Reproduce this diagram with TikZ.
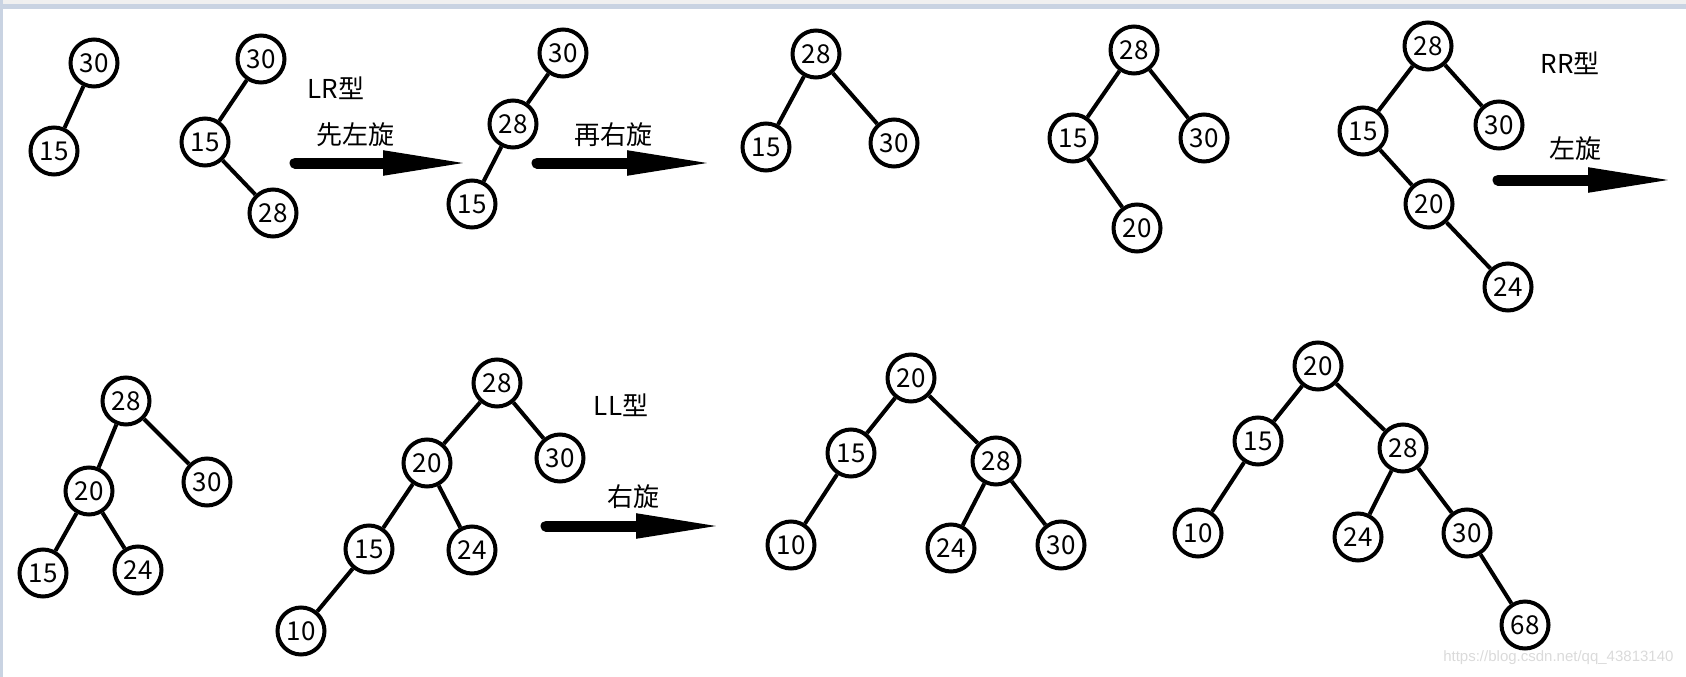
\documentclass[tikz,border=0pt]{standalone}
\usepackage{fontspec}
\newfontfamily\cjk{Noto Sans CJK SC}
\newfontfamily\wmfont{Liberation Sans}
\usetikzlibrary{arrows.meta}
\definecolor{framebar}{HTML}{C9D3E2}
\definecolor{topbar}{HTML}{F0F0F0}
\definecolor{wmgray}{HTML}{DADADA}

\begin{document}
\begin{tikzpicture}[
    x=1pt, y=-1pt,
    bnode/.style={draw, circle, line width=4pt, minimum size=47pt, inner sep=0pt, font=\cjk\fontsize{26}{26}\selectfont},
    link/.style={line width=4pt},
    note/.style={font=\cjk\fontsize{26}{26}\selectfont},
    rotarrow/.style={line width=11pt, line cap=round, -{Triangle[length=91pt, width=22pt]}}
]
\useasboundingbox (0,0) rectangle (1686,677);
\fill[topbar] (0,0) rectangle (1686,4);
\fill[framebar] (0,4) rectangle (1686,9);
\fill[framebar] (0,0) rectangle (3,677);

% first row
\node[bnode] (a30) at (94,63) {30};
\node[bnode] (a15) at (54,151) {15};

\node[bnode] (b30) at (261,59) {30};
\node[bnode] (b15) at (205,142) {15};
\node[bnode] (b28) at (273,213) {28};

\node[bnode] (c30) at (563,53) {30};
\node[bnode] (c28) at (513,124) {28};
\node[bnode] (c15) at (472,204) {15};

\node[bnode] (d28) at (816,54) {28};
\node[bnode] (d15) at (766,147) {15};
\node[bnode] (d30) at (894,143) {30};

\node[bnode] (e28) at (1134,50) {28};
\node[bnode] (e15) at (1073,138) {15};
\node[bnode] (e30) at (1204,138) {30};
\node[bnode] (e20) at (1137,228) {20};

\node[bnode] (f28) at (1428,46) {28};
\node[bnode] (f15) at (1363,131) {15};
\node[bnode] (f30) at (1499,125) {30};
\node[bnode] (f20) at (1429,204) {20};
\node[bnode] (f24) at (1508,287) {24};

% second row
\node[bnode] (g28) at (126,401) {28};
\node[bnode] (g20) at (89,491) {20};
\node[bnode] (g30) at (207,482) {30};
\node[bnode] (g15) at (43,573) {15};
\node[bnode] (g24) at (138,570) {24};

\node[bnode] (h28) at (497,383) {28};
\node[bnode] (h20) at (427,463) {20};
\node[bnode] (h30) at (560,458) {30};
\node[bnode] (h15) at (369,549) {15};
\node[bnode] (h24) at (472,550) {24};
\node[bnode] (h10) at (301,631) {10};

\node[bnode] (i20) at (911,378) {20};
\node[bnode] (i15) at (851,453) {15};
\node[bnode] (i28) at (996,461) {28};
\node[bnode] (i10) at (791,545) {10};
\node[bnode] (i24) at (951,548) {24};
\node[bnode] (i30) at (1061,545) {30};

\node[bnode] (j20) at (1318,366) {20};
\node[bnode] (j15) at (1258,441) {15};
\node[bnode] (j28) at (1403,448) {28};
\node[bnode] (j10) at (1198,533) {10};
\node[bnode] (j24) at (1358,537) {24};
\node[bnode] (j30) at (1467,533) {30};
\node[bnode] (j68) at (1525,625) {68};

\draw[link] (a30) -- (a15);
\draw[link] (b30) -- (b15) (b15) -- (b28);
\draw[link] (c30) -- (c28) (c28) -- (c15);
\draw[link] (d28) -- (d15) (d28) -- (d30);
\draw[link] (e28) -- (e15) (e28) -- (e30) (e15) -- (e20);
\draw[link] (f28) -- (f15) (f28) -- (f30) (f15) -- (f20) (f20) -- (f24);
\draw[link] (g28) -- (g20) (g28) -- (g30) (g20) -- (g15) (g20) -- (g24);
\draw[link] (h28) -- (h20) (h28) -- (h30) (h20) -- (h15) (h20) -- (h24) (h15) -- (h10);
\draw[link] (i20) -- (i15) (i20) -- (i28) (i15) -- (i10) (i28) -- (i24) (i28) -- (i30);
\draw[link] (j20) -- (j15) (j20) -- (j28) (j15) -- (j10) (j28) -- (j24) (j28) -- (j30) (j30) -- (j68);

% labels
\node[note] (lr) at (336,88) {LR型};
\node[note] (rot1) at (355,135) {先左旋};
\node[note] (rot2) at (613,135) {再右旋};
\node[note] (rr) at (1570,63) {RR型};
\node[note] (rot3) at (1575,149) {左旋};
\node[note] (ll) at (621,405) {LL型};
\node[note] (rot4) at (633,497) {右旋};

% rotation arrows
\coordinate (ar1s) at (295,163);
\coordinate (ar1e) at (474,163);
\coordinate (ar2s) at (537,163);
\coordinate (ar2e) at (718,163);
\coordinate (ar3s) at (1498,180);
\coordinate (ar3e) at (1679,180);
\coordinate (ar4s) at (546,526);
\coordinate (ar4e) at (727,526);
\draw[rotarrow] (ar1s) -- (ar1e);
\draw[rotarrow] (ar2s) -- (ar2e);
\draw[rotarrow] (ar3s) -- (ar3e);
\draw[rotarrow] (ar4s) -- (ar4e);

\node[font=\wmfont\fontsize{15}{15}\selectfont, text=wmgray, anchor=east] (wm) at (1677,658) {https://blog.csdn.net/qq\_43813140};
\end{tikzpicture}
\end{document}
